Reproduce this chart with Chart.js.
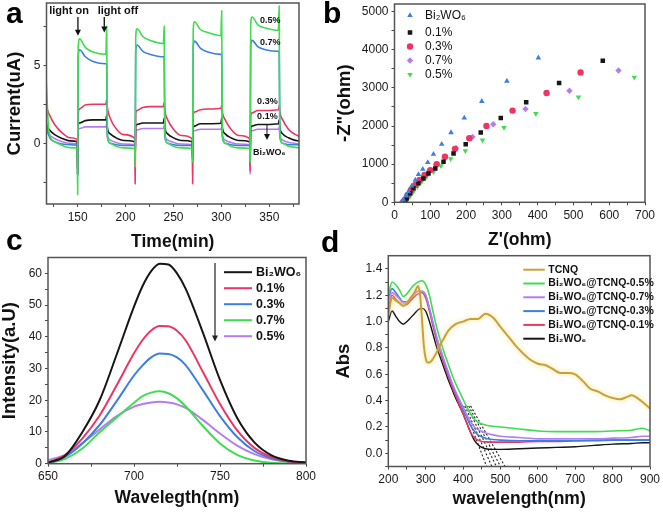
<!DOCTYPE html>
<html>
<head>
<meta charset="utf-8">
<script src="https://cdn.jsdelivr.net/npm/chart.js@4/dist/chart.umd.min.js"></script>
<style>
  html, body { margin: 0; padding: 0; background: #fff; }
  body { width: 663px; height: 517px; position: relative; overflow: hidden; }
  .panel { position: absolute; }
  .tag { position: absolute; font: bold 30px Arial, "Liberation Sans", sans-serif; line-height: 30px; color: #000; }
</style>
</head>
<body>
<div class="panel" style="left:0;top:0"><canvas id="chartA" width="322" height="256"></canvas></div>
<div class="panel" style="left:322px;top:0"><canvas id="chartB" width="341" height="256"></canvas></div>
<div class="panel" style="left:0;top:254px"><canvas id="chartC" width="322" height="263"></canvas></div>
<div class="panel" style="left:322px;top:254px"><canvas id="chartD" width="341" height="263"></canvas></div>
<div class="tag" style="left:6px;top:-2px">a</div>
<div class="tag" style="left:323px;top:-2px">b</div>
<div class="tag" style="left:6px;top:225px">c</div>
<div class="tag" style="left:321px;top:227px">d</div>
<script>
// ---- a: photocurrent vs time ----
const timeA = [
  117, 120, 126, 134, 142, 149.5,
  150, 150.6, 152, 158, 166, 179.5, 180.3, 181, 184, 190, 198, 209.5,
  210, 210.6, 212, 218, 226, 239.5, 240.3, 241, 244, 250, 258, 269.5,
  270, 270.6, 272, 278, 286, 299.5, 300.3, 301, 304, 310, 318, 329.5,
  330, 330.6, 332, 338, 346, 359.5, 360.3, 361, 364, 370, 376, 381
];
const curr05 = [
  4.3, 0.8, 0.1, -0.15, -0.28, -0.32,
  -3.3, 6.2, 6.7, 6.15, 5.85, 5.7, 7.5, 0.6, 0.0, -0.2, -0.3, -0.35,
  -1.5, 6.8, 7.35, 6.85, 6.6, 6.4, 7.5, 0.6, 0.0, -0.2, -0.3, -0.35,
  -1.2, 7.3, 7.8, 7.3, 7.1, 6.9, 8.5, 0.6, 0.0, -0.2, -0.3, -0.35,
  -1.2, 7.6, 8.1, 7.6, 7.4, 7.25, 8.8, 0.6, 0.0, -0.2, -0.25, -0.3
];
const curr07 = [
  1.5, 0.5, 0.1, -0.05, -0.1, -0.12,
  -2.0, 5.6, 6.0, 5.55, 5.25, 5.1, 5.1, 0.4, 0.0, -0.1, -0.15, -0.15,
  -1.0, 5.9, 6.3, 5.9, 5.7, 5.55, 5.55, 0.4, 0.0, -0.1, -0.15, -0.15,
  -1.0, 6.2, 6.55, 6.1, 5.85, 5.7, 5.7, 0.4, 0.0, -0.1, -0.15, -0.15,
  -1.0, 6.3, 6.6, 6.2, 6.0, 5.9, 5.9, 0.4, 0.0, -0.1, -0.1, -0.1
];
const curr03 = [
  2.4, 1.9, 1.2, 0.65, 0.35, 0.25,
  -2.0, 1.9, 2.2, 2.45, 2.5, 2.5, 2.8, 2.3, 1.6, 0.95, 0.55, 0.3,
  -2.6, 1.9, 2.1, 2.3, 2.35, 2.35, 2.6, 2.1, 1.5, 0.9, 0.5, 0.3,
  -2.6, 1.8, 2.0, 2.15, 2.2, 2.25, 2.4, 2.0, 1.5, 0.9, 0.5, 0.3,
  -1.8, 1.8, 1.95, 2.1, 2.1, 2.15, 2.4, 2.0, 1.5, 0.9, 0.6, 0.45
];
const curr01 = [
  1.2, 0.9, 0.55, 0.3, 0.15, 0.1,
  -2.0, 1.2, 1.3, 1.45, 1.5, 1.5, 1.8, 1.0, 0.6, 0.35, 0.18, 0.1,
  -1.0, 1.1, 1.2, 1.3, 1.3, 1.3, 1.6, 1.0, 0.6, 0.35, 0.18, 0.1,
  -1.0, 1.0, 1.1, 1.25, 1.25, 1.28, 1.6, 1.0, 0.6, 0.35, 0.18, 0.1,
  -1.0, 1.0, 1.1, 1.2, 1.2, 1.25, 1.5, 1.0, 0.6, 0.35, 0.2, 0.15
];
const currBi = [
  0.8, 0.55, 0.3, 0.1, 0.0, -0.05,
  -2.0, 0.85, 0.95, 1.05, 1.05, 1.05, 1.2, 0.5, 0.2, 0.05, -0.05, -0.1,
  -1.0, 0.8, 0.85, 0.95, 0.95, 0.95, 1.1, 0.5, 0.2, 0.05, -0.05, -0.1,
  -1.0, 0.75, 0.8, 0.9, 0.9, 0.9, 1.0, 0.5, 0.2, 0.05, -0.05, -0.1,
  -2.0, 0.75, 0.8, 0.9, 0.9, 0.9, 1.0, 0.5, 0.2, 0.05, 0.0, -0.05
];
const ticksA_x = [125, 150, 175, 200, 225, 250, 275, 300, 325, 350, 375];
const majorA_x = [150, 200, 250, 300, 350];
const ticksA_y = [-2.5, 0, 2.5, 5, 7.5];
const majorA_y = [0, 5];

// ---- b: Nyquist plots ----
const zReBi = [402, 314, 244, 195, 158, 132, 109, 93, 79, 67, 58, 48, 39, 33, 25, 20];
const zImBi = [3789, 3180, 2648, 2213, 1829, 1524, 1263, 1045, 871, 732, 584, 427, 279, 166, 61, 9];
const zRe01 = [582, 460, 368, 297, 241, 199, 165, 137, 114, 95, 81, 67, 53, 44, 34, 30];
const zIm01 = [3711, 3127, 2622, 2213, 1829, 1524, 1280, 1063, 888, 758, 627, 497, 366, 235, 105, 17];
const zRe03 = [520, 425, 330, 257, 209, 169, 141, 118, 100, 84, 70, 58, 46, 37, 30, 25];
const zIm03 = [3406, 2866, 2404, 2003, 1681, 1402, 1193, 1002, 845, 714, 584, 453, 322, 192, 78, 17];
const zRe07 = [626, 489, 366, 276, 218, 172, 141, 116, 97, 81, 67, 53, 44, 34, 27, 22];
const zIm07 = [3458, 2927, 2448, 2047, 1716, 1420, 1176, 984, 828, 688, 557, 427, 305, 192, 78, 17];
const zRe05 = [670, 514, 395, 306, 246, 198, 157, 130, 109, 90, 76, 64, 53, 44, 37, 33];
const zIm05 = [3275, 2761, 2326, 1960, 1629, 1350, 1141, 958, 801, 671, 540, 409, 279, 166, 78, 17];
const ticksB_x = [0, 50, 100, 150, 200, 250, 300, 350, 400, 450, 500, 550, 600, 650, 700];
const majorB_x = [0, 100, 200, 300, 400, 500, 600, 700];
const ticksB_y = [0, 500, 1000, 1500, 2000, 2500, 3000, 3500, 4000, 4500, 5000];
const majorB_y = [0, 1000, 2000, 3000, 4000, 5000];

// ---- c: PL spectra ----
const wlC = [650, 660, 670, 680, 690, 700, 705, 710, 715, 720, 725, 730, 740, 750, 760, 770, 780, 790, 800];
const plBi = [0.3, 2.5, 10, 20, 34.5, 49.5, 56, 60.7, 63, 62.8, 60, 55.2, 41.4, 26.4, 14.4, 6.7, 2.6, 0.9, 0.4];
const pl01 = [0.3, 2.8, 8, 15.2, 24.8, 34.8, 39, 42, 43.4, 43.3, 41.9, 38.9, 29, 18.8, 10.5, 5, 2.1, 0.7, 0.3];
const pl03 = [0.2, 2.2, 6.4, 12.2, 19.8, 27.8, 31, 33.5, 34.7, 34.6, 33.5, 31.1, 23.2, 15, 8.4, 4, 1.7, 0.6, 0.3];
const pl07 = [0.1, 1.5, 4.8, 9.9, 14.6, 19.2, 21.3, 22.4, 22.8, 22.2, 20.6, 18.1, 11.9, 6.4, 2.8, 1.0, 0.3, 0.1, 0.1];
const pl05 = [1.1, 2.8, 6.5, 10.8, 15, 18, 18.8, 19.3, 19.5, 19.3, 18.7, 17.6, 13.8, 9.5, 5.7, 3, 1.4, 0.7, 0.5];
const ticksC_x = [650, 675, 700, 725, 750, 775, 800];
const majorC_x = [650, 700, 750, 800];
const ticksC_y = [0, 5, 10, 15, 20, 25, 30, 35, 40, 45, 50, 55, 60];
const majorC_y = [0, 10, 20, 30, 40, 50, 60];

// ---- d: UV-vis absorbance ----
const wlT = [200, 210, 220, 230, 240, 250, 260, 270, 280, 285, 290, 295, 300, 305, 310, 320, 330, 340, 350, 360,
  380, 400, 420, 440, 460, 480, 500, 520, 540, 560, 580, 600, 620, 640, 660, 680, 700, 720, 740, 760, 780, 800,
  820, 840, 850, 860, 880, 900];
const absTCNQ = [1.05, 1.18, 1.16, 1.14, 1.12, 1.14, 1.18, 1.22, 1.27, 1.2, 1.02, 0.82, 0.72, 0.69, 0.69, 0.72, 0.77, 0.83, 0.88, 0.93,
  0.98, 1.0, 1.02, 1.02, 1.06, 1.03, 0.96, 0.89, 0.82, 0.76, 0.71, 0.68, 0.67, 0.64, 0.61, 0.61, 0.6, 0.55, 0.49, 0.47, 0.44, 0.42,
  0.41, 0.43, 0.44, 0.43, 0.39, 0.34];
const wlD = [200, 210, 220, 230, 240, 250, 260, 270, 280, 290, 300, 310, 320, 330, 340, 350, 360, 370, 380, 390,
  400, 410, 420, 430, 440, 450, 460, 480, 500, 550, 600, 650, 700, 750, 800, 850, 880, 900];
const abs05 = [1.2, 1.3, 1.28, 1.24, 1.19, 1.21, 1.25, 1.28, 1.3, 1.31, 1.28, 1.2, 1.07, 0.95, 0.85, 0.76, 0.68, 0.6, 0.53, 0.47,
  0.41, 0.35, 0.3, 0.26, 0.235, 0.225, 0.215, 0.205, 0.2, 0.185, 0.17, 0.165, 0.165, 0.165, 0.17, 0.175, 0.19, 0.17];
const abs07 = [1.15, 1.22, 1.2, 1.17, 1.14, 1.15, 1.18, 1.21, 1.23, 1.23, 1.2, 1.1, 0.99, 0.88, 0.79, 0.7, 0.62, 0.54, 0.47, 0.41,
  0.35, 0.29, 0.24, 0.2, 0.18, 0.165, 0.155, 0.14, 0.13, 0.12, 0.11, 0.11, 0.11, 0.11, 0.115, 0.12, 0.13, 0.13];
const abs03 = [1.18, 1.25, 1.22, 1.18, 1.15, 1.15, 1.18, 1.21, 1.23, 1.23, 1.2, 1.1, 0.98, 0.87, 0.78, 0.69, 0.61, 0.53, 0.46, 0.4,
  0.33, 0.27, 0.21, 0.17, 0.14, 0.125, 0.115, 0.105, 0.1, 0.095, 0.095, 0.095, 0.095, 0.1, 0.1, 0.1, 0.1, 0.1];
const abs01 = [1.1, 1.2, 1.17, 1.14, 1.12, 1.13, 1.16, 1.19, 1.21, 1.22, 1.18, 1.08, 0.96, 0.85, 0.76, 0.67, 0.59, 0.51, 0.44, 0.37,
  0.3, 0.23, 0.16, 0.12, 0.1, 0.09, 0.088, 0.085, 0.085, 0.085, 0.09, 0.09, 0.095, 0.095, 0.1, 0.1, 0.1, 0.1];
const absBi = [1.0, 1.08, 1.04, 1.0, 0.98, 1.0, 1.03, 1.06, 1.09, 1.1, 1.08, 1.0, 0.9, 0.8, 0.72, 0.64, 0.56, 0.49, 0.42, 0.36,
  0.3, 0.23, 0.16, 0.1, 0.065, 0.045, 0.035, 0.03, 0.03, 0.035, 0.04, 0.045, 0.05, 0.06, 0.07, 0.075, 0.08, 0.08];
// band-edge tangent lines (Bi2WO6, 0.1%, 0.3%, 0.7%, 0.5%)
const tangentFromX = [401, 405, 410, 415, 420];
const tangentToX = [463, 477, 489, 500, 512];
const tangentFromY = 0.36;
const tangentToY = -0.1;
const ticksD_x = [200, 250, 300, 350, 400, 450, 500, 550, 600, 650, 700, 750, 800, 850, 900];
const majorD_x = [200, 300, 400, 500, 600, 700, 800, 900];
const ticksD_y = [-0.1, 0, 0.1, 0.2, 0.3, 0.4, 0.5, 0.6, 0.7, 0.8, 0.9, 1.0, 1.1, 1.2, 1.3, 1.4];
const majorD_y = [0, 0.2, 0.4, 0.6, 0.8, 1.0, 1.2, 1.4];

const GREEN = '#3fdc52', BLUE = '#3b7fe0', RED = '#ee3562', BLACK = '#161616', PURPLE = '#b57cf2', GOLD = '#c9a13c';
const FONT = 'Arial, "Liberation Sans", sans-serif';

Chart.defaults.font.family = FONT;
Chart.defaults.color = '#1a1a1a';
Chart.defaults.animation = false;

const frame = {
    id: 'frame',
    afterDraw(chart) {
        const { ctx, chartArea: a } = chart;
        ctx.save();
        ctx.strokeStyle = '#555';
        ctx.lineWidth = 1.5;
        ctx.strokeRect(a.left, a.top, a.right - a.left, a.bottom - a.top);
        ctx.restore();
    }
};
Chart.register(frame);

const pts = (xs, ys) => xs.map((x, i) => ({ x, y: ys[i] }));

function axis(min, max, ticks, major, title, box, titlePad, titleSize, fmt = v => String(v)) {
    return {
        type: 'linear', min, max,
        afterBuildTicks: s => { s.ticks = ticks.map(v => ({ value: v })); },
        afterFit: s => {
            if (s.isHorizontal()) { s.height = box; s.paddingLeft = 0; s.paddingRight = 0; }
            else { s.width = box; s.paddingTop = 0; s.paddingBottom = 0; }
        },
        ticks: {
            autoSkip: false, maxRotation: 0, minRotation: 0, padding: 3,
            color: '#1a1a1a', font: { size: 12 },
            callback: v => major.includes(v) ? fmt(v) : ''
        },
        grid: { drawOnChartArea: false, drawTicks: true, tickLength: 3, color: '#444', lineWidth: 1 },
        border: { display: false },
        title: { display: true, text: title, color: '#111', padding: titlePad, font: { size: titleSize, weight: 'bold' } }
    };
}

function line(label, data, color, width = 1.6) {
    return {
        label, data, borderColor: color, backgroundColor: color, borderWidth: width,
        pointRadius: 0, cubicInterpolationMode: 'monotone', fill: false
    };
}

function arrowDown(ctx, x, y0, y1) {
    ctx.beginPath();
    ctx.moveTo(x, y0);
    ctx.lineTo(x, y1 - 5);
    ctx.stroke();
    ctx.beginPath();
    ctx.moveTo(x - 3, y1 - 6);
    ctx.lineTo(x + 3, y1 - 6);
    ctx.lineTo(x, y1);
    ctx.closePath();
    ctx.fill();
}

const charts = {};

// ---------- a ----------
const notesA = {
    id: 'notesA',
    afterDatasetsDraw(chart) {
        const { ctx, scales: { x, y } } = chart;
        ctx.save();
        ctx.fillStyle = '#111';
        ctx.strokeStyle = '#111';
        ctx.lineWidth = 1.3;
        ctx.textAlign = 'center';
        ctx.textBaseline = 'middle';
        ctx.font = 'bold 11px ' + FONT;
        ctx.fillText('light on', x.getPixelForValue(141), y.getPixelForValue(8.5));
        ctx.fillText('light off', x.getPixelForValue(192), y.getPixelForValue(8.5));
        arrowDown(ctx, x.getPixelForValue(150.3), y.getPixelForValue(8.1), y.getPixelForValue(6.9));
        arrowDown(ctx, x.getPixelForValue(177.8), y.getPixelForValue(8.1), y.getPixelForValue(7.1));
        ctx.font = 'bold 9px ' + FONT;
        ctx.fillText('0.5%', x.getPixelForValue(351), y.getPixelForValue(7.9));
        ctx.fillText('0.7%', x.getPixelForValue(351), y.getPixelForValue(6.45));
        ctx.fillText('0.3%', x.getPixelForValue(348), y.getPixelForValue(2.67));
        ctx.fillText('0.1%', x.getPixelForValue(348), y.getPixelForValue(1.7));
        ctx.fillText('Bi₂WO₆', x.getPixelForValue(350), y.getPixelForValue(-0.62));
        ctx.lineWidth = 1;
        arrowDown(ctx, x.getPixelForValue(347.6), y.getPixelForValue(1.17), y.getPixelForValue(0.2));
        ctx.restore();
    }
};

charts.a = new Chart(document.getElementById('chartA'), {
    type: 'line',
    data: {
        datasets: [
            line('0.5%', pts(timeA, curr05), GREEN),
            line('0.7%', pts(timeA, curr07), BLUE),
            line('0.3%', pts(timeA, curr03), RED),
            line('0.1%', pts(timeA, curr01), BLACK),
            line('Bi₂WO₆', pts(timeA, currBi), PURPLE)
        ]
    },
    options: {
        responsive: false, devicePixelRatio: 1,
        layout: { padding: { left: 0, top: 3, right: 23, bottom: 0 } },
        plugins: { legend: { display: false }, tooltip: { enabled: false } },
        scales: {
            x: axis(117.5, 381, ticksA_x, majorA_x, 'Time(min)', 52, { top: 0, bottom: 3.5 }, 17.5),
            y: axis(-3.9, 9, ticksA_y, majorA_y, 'Current(uA)', 46.5, { top: 4, bottom: 0 }, 18.5)
        }
    },
    plugins: [notesA]
});

// ---------- b ----------
const seriesB = [
    { label: 'Bi₂WO₆', xs: zReBi, ys: zImBi, color: BLUE, style: 'triangle', rot: 0 },
    { label: '0.1%', xs: zRe01, ys: zIm01, color: BLACK, style: 'rect', rot: 0 },
    { label: '0.3%', xs: zRe03, ys: zIm03, color: RED, style: 'circle', rot: 0 },
    { label: '0.7%', xs: zRe07, ys: zIm07, color: PURPLE, style: 'rectRot', rot: 0 },
    { label: '0.5%', xs: zRe05, ys: zIm05, color: GREEN, style: 'triangle', rot: 180 }
];

const legendB = {
    id: 'legendB',
    afterDraw(chart) {
        const { ctx, chartArea: a } = chart;
        const rows = [11.5, 28.5, 42.5, 56.5, 70.5];
        ctx.save();
        ctx.font = '12px ' + FONT;
        ctx.textBaseline = 'middle';
        ctx.textAlign = 'left';
        seriesB.forEach((s, i) => {
            const yy = a.top + rows[i];
            ctx.fillStyle = s.color;
            ctx.strokeStyle = s.color;
            Chart.helpers.drawPoint(ctx, { pointStyle: s.style, rotation: s.rot, radius: 3.2, borderWidth: 0 }, a.left + 15.5, yy);
            ctx.fillStyle = '#111';
            ctx.fillText(s.label, a.left + 30.5, yy);
        });
        ctx.restore();
    }
};

charts.b = new Chart(document.getElementById('chartB'), {
    type: 'scatter',
    data: {
        datasets: seriesB.map(s => ({
            label: s.label, data: pts(s.xs, s.ys),
            pointStyle: s.style, rotation: s.rot, pointRadius: 3.2,
            backgroundColor: s.color, borderColor: s.color, borderWidth: 0
        }))
    },
    options: {
        responsive: false, devicePixelRatio: 1,
        layout: { padding: { left: 0, top: 3.5, right: 18, bottom: 0 } },
        plugins: { legend: { display: false }, tooltip: { enabled: false } },
        scales: {
            x: axis(0, 700, ticksB_x, majorB_x, "Z'(ohm)", 53.7, { top: 0, bottom: 5.5 }, 17.5),
            y: axis(0, 5200, ticksB_y, majorB_y, '-Z"(ohm)', 72.5, { top: 12, bottom: 0 }, 18.5)
        }
    },
    plugins: [legendB]
});

// ---------- c ----------
const seriesC = [
    { label: 'Bi₂WO₆', ys: plBi, color: BLACK },
    { label: '0.1%', ys: pl01, color: RED },
    { label: '0.3%', ys: pl03, color: BLUE },
    { label: '0.7%', ys: pl07, color: GREEN },
    { label: '0.5%', ys: pl05, color: PURPLE }
];

const legendC = {
    id: 'legendC',
    afterDraw(chart) {
        const { ctx, chartArea: a } = chart;
        ctx.save();
        ctx.font = 'bold 12.5px ' + FONT;
        ctx.textBaseline = 'middle';
        ctx.textAlign = 'left';
        seriesC.forEach((s, i) => {
            const yy = a.top + 14.7 + 16 * i;
            ctx.strokeStyle = s.color;
            ctx.lineWidth = 2;
            ctx.beginPath();
            ctx.moveTo(a.left + 176, yy);
            ctx.lineTo(a.left + 204, yy);
            ctx.stroke();
            ctx.fillStyle = '#111';
            ctx.fillText(s.label, a.left + 208, yy);
        });
        ctx.strokeStyle = '#222';
        ctx.fillStyle = '#222';
        ctx.lineWidth = 1.2;
        arrowDown(ctx, a.left + 167, a.top + 5.5, a.top + 84);
        ctx.restore();
    }
};

charts.c = new Chart(document.getElementById('chartC'), {
    type: 'line',
    data: { datasets: seriesC.map(s => line(s.label, pts(wlC, s.ys), s.color, 2)) },
    options: {
        responsive: false, devicePixelRatio: 1,
        layout: { padding: { left: 0, top: 3.5, right: 16, bottom: 0 } },
        plugins: { legend: { display: false }, tooltip: { enabled: false } },
        scales: {
            x: axis(650, 800, ticksC_x, majorC_x, 'Wavelegth(nm)', 53.3, { top: 0, bottom: 8 }, 17.5),
            y: axis(0, 65, ticksC_y, majorC_y, 'Intensity(a.U)', 48, { top: -1.5, bottom: 0 }, 18.5)
        }
    },
    plugins: [legendC]
});

// ---------- d ----------
const seriesD = [
    { label: 'TCNQ', xs: wlT, ys: absTCNQ, color: GOLD, w: 2 },
    { label: 'Bi₂WO₆@TCNQ-0.5%', xs: wlD, ys: abs05, color: GREEN, w: 1.6 },
    { label: 'Bi₂WO₆@TCNQ-0.7%', xs: wlD, ys: abs07, color: PURPLE, w: 1.6 },
    { label: 'Bi₂WO₆@TCNQ-0.3%', xs: wlD, ys: abs03, color: BLUE, w: 1.6 },
    { label: 'Bi₂WO₆@TCNQ-0.1%', xs: wlD, ys: abs01, color: RED, w: 1.6 },
    { label: 'Bi₂WO₆', xs: wlD, ys: absBi, color: BLACK, w: 1.4 }
];

const tangents = tangentFromX.map((x0, i) => ({
    label: 'tangent' + i,
    data: [{ x: x0, y: tangentFromY }, { x: tangentToX[i], y: tangentToY }],
    borderColor: '#222', borderWidth: 1.1, borderDash: [2, 2], pointRadius: 0, fill: false
}));

const glowD = {
    id: 'glowD',
    beforeDatasetDraw(chart, args) {
        if (args.index !== 0) return;
        chart.ctx.save();
        chart.ctx.shadowColor = 'rgba(245, 220, 110, 0.95)';
        chart.ctx.shadowBlur = 5;
    },
    afterDatasetDraw(chart, args) {
        if (args.index === 0) chart.ctx.restore();
    }
};

const legendD = {
    id: 'legendD',
    afterDraw(chart) {
        const { ctx, chartArea: a } = chart;
        ctx.save();
        ctx.font = 'bold 10.5px ' + FONT;
        ctx.textBaseline = 'middle';
        ctx.textAlign = 'left';
        seriesD.forEach((s, i) => {
            const yy = a.top + 14 + 13.8 * i;
            ctx.strokeStyle = s.color;
            ctx.lineWidth = 2;
            ctx.beginPath();
            ctx.moveTo(a.left + 135, yy);
            ctx.lineTo(a.left + 156.5, yy);
            ctx.stroke();
            ctx.fillStyle = '#111';
            ctx.fillText(s.label, a.left + 160, yy);
        });
        ctx.restore();
    }
};

charts.d = new Chart(document.getElementById('chartD'), {
    type: 'line',
    data: {
        datasets: seriesD.map(s => line(s.label, pts(s.xs, s.ys), s.color, s.w)).concat(tangents)
    },
    options: {
        responsive: false, devicePixelRatio: 1,
        layout: { padding: { left: 0, top: 1.7, right: 13, bottom: 0 } },
        plugins: { legend: { display: false }, tooltip: { enabled: false } },
        scales: {
            x: axis(200, 900, ticksD_x, majorD_x, 'wavelength(nm)', 50.5, { top: 0, bottom: 7 }, 17.5),
            y: axis(-0.1, 1.5, ticksD_y, majorD_y, 'Abs', 66.3, { top: 11, bottom: 0 }, 18.5, v => v.toFixed(1))
        }
    },
    plugins: [glowD, legendD]
});
</script>
</body>
</html>
